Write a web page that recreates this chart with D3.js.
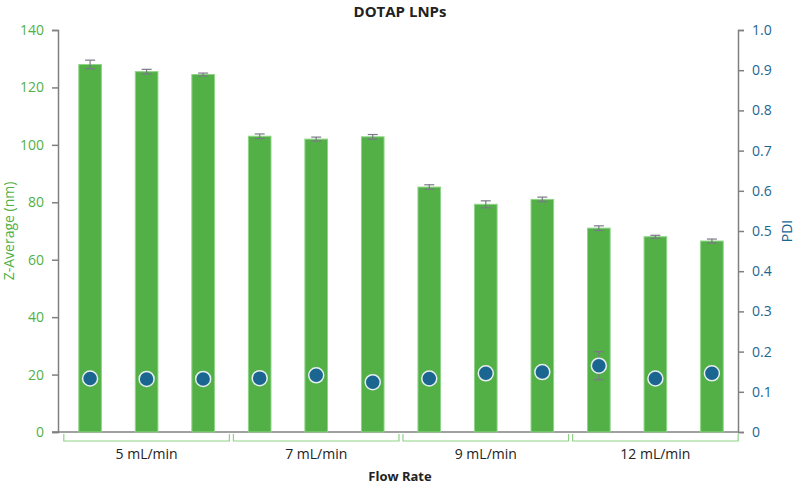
<!DOCTYPE html>
<html><head><meta charset="utf-8">
<script src="https://cdn.jsdelivr.net/npm/d3@7"></script>
<style>body{margin:0;background:#fff}text{font-family:"Open Sans",sans-serif}</style>
</head><body><svg id="c" width="800" height="485"></svg>
<script>
const groups = ['5 mL/min', '7 mL/min', '9 mL/min', '12 mL/min']
const zAvg = [128, 125.5, 124.5, 103, 102, 102.8, 85.3, 79.3, 81, 71, 68, 66.5]
const zErr = [1.5, 0.8, 0.5, 0.8, 0.7, 0.8, 0.8, 1.2, 0.8, 0.8, 0.5, 0.7]
const pdi = [0.133, 0.132, 0.132, 0.134, 0.141, 0.124, 0.133, 0.146, 0.149, 0.165, 0.133, 0.146]
const pdiErr = [0, 0, 0, 0, 0, 0, 0, 0, 0, 0.035, 0, 0]

const svg = d3.select('#c')
const m = {l: 58, r: 738, t: 30, b: 432}
const green = '#52b047', blue = '#1b6690', grey = '#808080'

const x = d3.scaleBand().domain(d3.range(12)).range([59, 743]).paddingInner(0.6).paddingOuter(0.35)
const yL = d3.scaleLinear().domain([0, 140]).range([m.b, m.t])
const yR = d3.scaleLinear().domain([0, 1]).range([m.b, m.t])

const axL = svg.append('g').attr('transform', `translate(${m.l},0)`)
  .call(d3.axisLeft(yL).tickValues(d3.range(0, 141, 20)).tickSize(6).tickPadding(8))
axL.selectAll('text').attr('fill', green).attr('font-size', 14)
const axR = svg.append('g').attr('transform', `translate(${m.r},0)`)
  .call(d3.axisRight(yR).tickValues(d3.range(0, 1.01, 0.1)).tickFormat(d => d === 0 ? '0' : d3.format('.1f')(d)).tickSize(6).tickPadding(8))
axR.selectAll('text').attr('fill', blue).attr('font-size', 14)
svg.selectAll('.domain,.tick line').attr('stroke', grey).attr('stroke-width', 1.5)
svg.append('line').attr('x1', m.l - 6).attr('x2', m.r).attr('y1', m.b).attr('y2', m.b).attr('stroke', grey).attr('stroke-width', 1.5)

svg.selectAll('.bar').data(zAvg).join('rect')
  .attr('x', (d, i) => x(i)).attr('width', x.bandwidth())
  .attr('y', d => yL(d)).attr('height', d => m.b - yL(d))
  .attr('fill', green).attr('stroke', '#8fd486').attr('stroke-width', 1)

function errBar(cx, y1, y2) {
  const g = svg.append('g').attr('stroke', '#7a7a86').attr('stroke-width', 1.2)
  g.append('line').attr('x1', cx).attr('x2', cx).attr('y1', y1).attr('y2', y2)
  g.append('line').attr('x1', cx - 5).attr('x2', cx + 5).attr('y1', y1).attr('y2', y1)
  g.append('line').attr('x1', cx - 5).attr('x2', cx + 5).attr('y1', y2).attr('y2', y2)
}
zAvg.forEach((d, i) => errBar(x(i) + x.bandwidth() / 2, yL(d + zErr[i]), yL(d - zErr[i])))
pdi.forEach((d, i) => { if (pdiErr[i]) errBar(x(i) + x.bandwidth() / 2, yR(d + pdiErr[i]), yR(d - pdiErr[i])) })

svg.selectAll('.dot').data(pdi).join('circle')
  .attr('cx', (d, i) => x(i) + x.bandwidth() / 2).attr('cy', d => yR(d)).attr('r', 7.5)
  .attr('fill', blue).attr('stroke', '#e6eef2').attr('stroke-width', 1.5)

const step = x.step()
groups.forEach((g, k) => {
  const x0 = x(k * 3) - step * 0.3 + 2, x1 = x(k * 3 + 2) + x.bandwidth() + step * 0.3 - 2
  svg.append('path').attr('d', `M${x0},434V441H${x1}V434`).attr('fill', 'none').attr('stroke', '#8fd486').attr('stroke-width', 1.2)
  svg.append('text').attr('x', (x0 + x1) / 2).attr('y', 459).attr('text-anchor', 'middle').attr('font-size', 14).attr('fill', '#222').text(g)
})

svg.append('text').attr('x', 400).attr('y', 17).attr('text-anchor', 'middle').attr('font-size', 15).attr('font-weight', 'bold').attr('fill', '#222').text('DOTAP LNPs')
svg.append('text').attr('x', 400).attr('y', 481).attr('text-anchor', 'middle').attr('font-size', 13).attr('font-weight', 'bold').attr('fill', '#222').text('Flow Rate')
svg.append('text').attr('transform', `translate(14,${(m.t + m.b) / 2}) rotate(-90)`).attr('text-anchor', 'middle').attr('font-size', 14).attr('fill', green).text('Z-Average (nm)')
svg.append('text').attr('transform', `translate(792,${(m.t + m.b) / 2}) rotate(-90)`).attr('text-anchor', 'middle').attr('font-size', 14).attr('fill', blue).text('PDI')
</script></body></html>
